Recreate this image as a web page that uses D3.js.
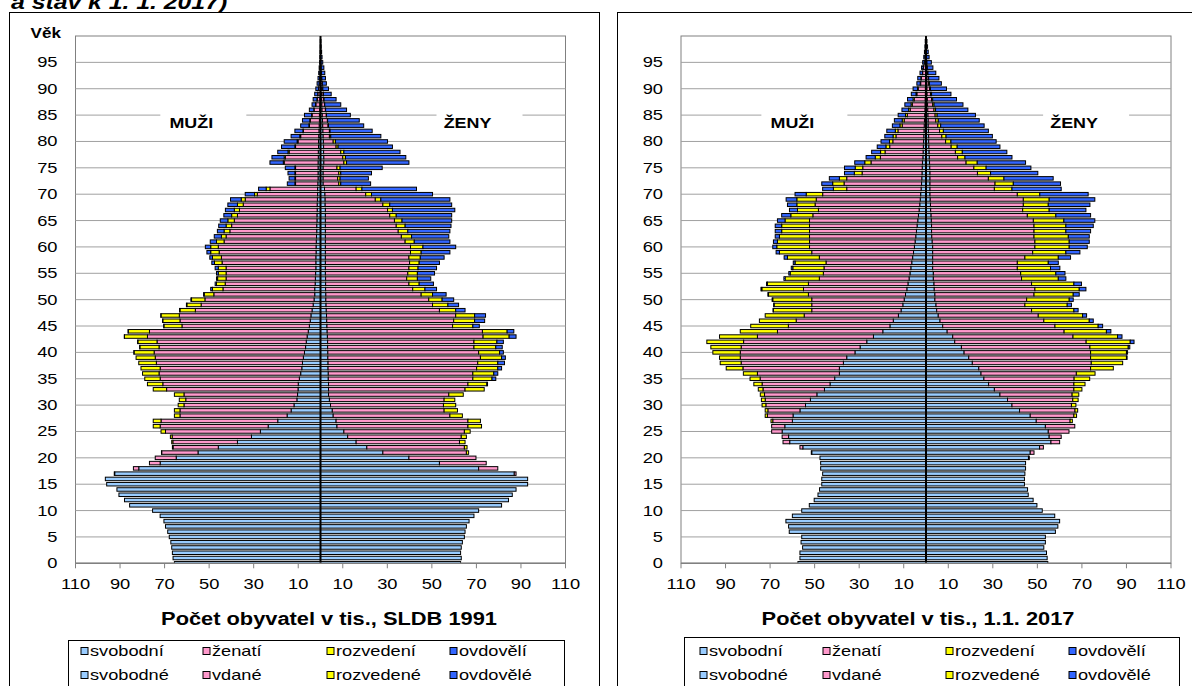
<!DOCTYPE html>
<html><head><meta charset="utf-8">
<script src="https://cdn.jsdelivr.net/npm/d3@7"></script>
<style>body{margin:0;background:#fff;} svg{display:block;font-family:"Liberation Sans",Arial,sans-serif;}</style>
</head><body>
<svg id="c" width="1192" height="686"></svg>
<script>
// ---------- categories / ticks ----------
const ages = d3.range(0, 100);
const yTickValues = [0,5,10,15,20,25,30,35,40,45,50,55,60,65,70,75,80,85,90,95];
const xTickValues = [-110,-90,-70,-50,-30,-10,10,30,50,70,90,110];
const legendMen = ["svobodní","ženatí","rozvedení","ovdovělí"];
const legendWomen = ["svobodné","vdané","rozvedené","ovdovělé"];
const statusColors = ["#99CCFF","#FF99CC","#FFFF00","#3366FF"];

// ---------- SLDB 1991 (thousands), index = age ----------
const m91_svobodni = [65.6,66.2,66.5,66.8,67.2,67.9,68.6,69.6,70.3,72.0,
 75.4,85.7,88.0,90.5,91.4,96.0,96.6,92.4,81.6,72.0,
 64.8,55.0,45.9,37.3,31.0,27.0,23.5,19.2,15.0,13.2,
 11.9,10.6,10.3,10.1,10.0,9.5,8.9,8.4,8.1,7.7,
 7.2,6.7,6.4,6.0,5.5,5.0,4.6,4.3,3.8,3.3,
 2.9,2.6,2.6,2.4,2.3,2.2,2.1,2.1,2.1,2.0,
 2.0,1.9,1.8,1.7,1.7,1.6,1.6,1.5,1.5,1.4,
 1.3,1.3,1.2,1.1,1.1,1.1,1.1,1.0,1.0,0.9,
 0.9,0.8,0.7,0.6,0.5,0.5,0.4,0.3,0.3,0.2,
 0.2,0.1,0.1,0.1,0.05,0.05,0.03,0.02,0.01,0.01];
const m91_zenati = [0,0,0,0,0,0,0,0,0,0,
 0,0,0,0,0,0,0,0.2,2.4,4.8,
 9.4,16.3,20.3,29.0,35.6,42.6,48.5,52.4,48.1,49.9,
 49.4,49.9,51.0,59.0,60.8,62.5,63.6,63.6,65.6,66.5,
 67.5,65.8,67.0,71.7,71.3,57.2,58.5,59.1,52.4,50.3,
 49.0,45.3,41.2,40.4,40.1,40.2,40.3,42.1,42.4,43.5,
 43.9,41.4,40.6,39.0,38.2,37.1,35.7,34.9,33.2,32.4,
 27.1,21.4,10.0,10.1,10.1,10.1,15.2,14.8,13.1,10.3,
 9.2,8.1,7.0,4.4,4.1,3.3,2.5,1.8,1.2,1.0,
 0.7,0.5,0.3,0.2,0.15,0.1,0.06,0.04,0.03,0.02];
const m91_rozvedeni = [0,0,0,0,0,0,0,0,0,0,
 0,0,0,0,0,0,0,0,0,0,
 0,0.1,0.3,0.5,0.8,2.0,3.1,3.5,2.5,2.5,
 2.6,2.9,4.3,6.0,6.9,6.9,7.4,8.6,7.9,8.6,
 9.0,8.6,8.6,10.3,9.5,8.1,7.7,8.2,6.9,6.4,
 6.0,4.3,4.7,3.9,3.8,3.5,3.5,3.4,4.0,3.8,
 3.4,3.4,2.1,2.6,2.5,2.9,2.6,2.3,2.6,1.8,
 1.2,1.7,0.3,0.3,0.3,0.3,0.4,0.5,0.5,0.3,
 0.4,0.4,0.2,0.2,0.2,0.2,0.1,0.1,0.1,0.05,
 0.05,0.03,0.02,0.01,0.01,0.01,0,0,0,0];
const m91_ovdoveli = [0,0,0,0,0,0,0,0,0,0,
 0,0,0,0,0,0,0,0,0,0,
 0,0,0,0,0,0,0,0,0,0,
 0,0,0,0,0,0,0,0,0,0,
 0.1,0.1,0.1,0.1,0.1,0.1,0.1,0.1,0.2,0.2,
 0.3,0.3,0.8,0.6,0.5,0.8,1.4,1.2,1.2,1.7,
 2.4,2.8,3.2,3.0,3.3,3.4,3.5,4.0,4.3,4.8,
 4.2,3.4,3.4,2.6,3.1,4.3,6.0,5.5,4.6,6.0,
 5.8,3.9,3.6,3.7,3.3,3.2,2.0,1.6,1.7,1.35,
 1.15,0.9,0.7,0.5,0.4,0.25,0.17,0.12,0.08,0.05];
const f91_svobodne = [62.9,63.2,62.9,63.2,63.7,64.6,64.9,65.5,66.7,68.9,
 71.0,81.3,84.4,86.1,87.8,93.0,93.0,87.0,71.0,53.4,
 39.7,28.0,20.8,16.0,12.2,10.5,7.4,7.0,5.7,5.3,
 4.5,4.0,3.6,3.6,3.6,3.5,3.5,3.4,3.4,3.3,
 3.3,3.2,3.2,3.1,3.0,2.9,2.8,2.7,2.6,2.5,
 2.4,2.4,2.3,2.3,2.3,2.2,2.2,2.2,2.2,2.2,
 2.2,2.2,2.2,2.2,2.2,2.2,2.2,2.2,2.1,2.1,
 2.0,1.8,1.2,1.2,1.2,1.2,1.5,1.5,1.4,1.4,
 1.3,1.2,1.1,1.0,0.9,0.8,0.7,0.6,0.5,0.4,
 0.4,0.3,0.2,0.2,0.1,0.1,0.05,0.03,0.02,0.01];
const f91_vdane = [0,0,0,0,0,0,0,0,0,0,
 0,0,0,0,0,0,0,0.8,8.6,21.0,
 30.1,37.5,43.8,46.4,51.0,54.1,58.8,59.2,52.4,50.2,
 50.7,51.5,54.0,61.3,62.6,64.9,64.9,66.7,67.2,68.5,
 67.7,65.7,65.7,69.9,69.7,56.4,57.0,58.0,50.8,47.8,
 46.2,42.8,39.1,37.4,36.4,37.0,37.5,37.8,37.5,38.2,
 38.2,35.8,34.1,32.7,31.8,31.0,28.9,27.9,25.9,22.5,
 18.3,14.2,7.0,6.5,7.0,6.2,9.0,8.5,7.7,5.6,
 4.4,2.8,2.9,2.4,2.2,1.8,1.5,1.2,1.0,0.8,
 0.6,0.5,0.4,0.2,0.2,0.1,0.05,0.03,0.02,0.01];
const f91_rozvedene = [0,0,0,0,0,0,0,0,0,0,
 0,0,0,0,0,0,0,0,0,0,
 0,1.0,1.2,2.5,2.3,2.6,6.1,5.6,5.6,6.0,
 5.5,4.8,6.5,8.6,8.5,8.6,9.4,9.5,9.0,9.5,
 9.4,9.8,10.3,11.7,11.1,9.1,9.4,8.5,7.3,6.9,
 6.0,5.1,5.5,4.6,4.8,4.3,4.1,4.3,5.1,4.8,
 5.6,4.1,4.6,4.3,4.0,3.4,2.9,2.2,3.1,2.5,
 2.6,2.6,0.9,1.1,0.9,1.4,1.2,1.2,1.4,0.9,
 1.0,0.6,0.3,0.2,0.1,0.1,0.1,0.1,0.1,0.1,
 0.05,0.03,0.02,0.02,0.01,0.01,0,0,0,0];
const f91_ovdovele = [0,0,0,0,0,0,0,0,0,0,
 0,0,0,0,0,0,0,0,0,0,
 0,0,0,0,0,0,0,0,0,0,
 0,0,0,0,0.3,1.7,1.8,1.7,3.0,1.7,
 1.7,2.9,2.9,3.1,3.0,2.9,4.5,4.9,4.2,4.8,
 5.2,6.1,5.2,6.4,6.0,7.7,8.3,9.1,10.7,12.9,
 14.7,16.0,16.7,18.9,20.6,22.3,24.9,28.0,27.8,31.0,
 27.4,24.5,13.4,12.7,13.8,18.9,28.0,27.1,25.2,24.4,
 23.4,22.5,18.9,15.8,14.2,10.7,9.4,7.2,5.4,3.5,
 2.55,1.8,1.6,1.5,1.2,0.8,0.6,0.45,0.26,0.18];

// ---------- 1.1.2017 (thousands), index = age ----------
const m17_svobodni = [57.5,56.6,56.6,55.4,56.1,55.8,61.4,61.7,62.9,60.0,
 55.8,52.4,50.2,48.5,47.8,46.8,46.8,46.4,47.3,47.3,
 47.6,51.3,55.3,61.2,61.7,64.6,63.4,60.0,59.7,56.6,
 54.1,51.9,49.0,45.6,43.1,41.0,38.9,38.9,37.1,35.6,
 31.9,29.6,26.6,23.6,19.4,16.2,14.7,12.4,11.2,10.4,
 9.8,9.2,8.6,8.1,7.6,7.2,6.8,6.4,6.0,5.6,
 5.2,4.9,4.6,4.3,4.0,3.7,3.4,3.1,2.8,2.6,
 2.4,2.2,2.0,1.9,1.8,1.7,1.6,1.4,1.3,1.2,
 1.1,1.0,0.9,0.8,0.7,0.6,0.5,0.45,0.4,0.3,
 0.3,0.2,0.2,0.1,0.1,0.1,0.05,0.03,0.02,0.02];
const m17_zenati = [0,0,0,0,0,0,0,0,0,0,
 0,0,0,0,0,0,0,0,0,0,
 0,0.2,1.3,3.0,2.9,4.7,5.9,8.8,11.5,14.4,
 17.8,20.3,23.5,27.6,30.5,33.5,36.8,43.3,45.9,47.8,
 51.5,53.4,55.3,52.1,47.3,45.6,43.6,42.3,40.1,40.9,
 41.5,43.6,46.4,44.7,40.3,38.9,39.0,38.5,41.9,45.7,
 47.1,47.4,47.7,48.0,48.3,48.6,47.4,45.2,47.0,46.7,
 44.0,33.4,34.8,33.7,26.9,26.7,23.1,19.1,17.1,15.1,
 13.8,12.5,11.7,9.9,9.1,7.8,6.6,5.7,4.9,3.8,
 3.2,2.2,1.9,1.4,1.0,0.7,0.45,0.3,0.2,0.13];
const m17_rozvedeni = [0,0,0,0,0,0,0,0,0,0,
 0,0,0,0,0,0,0,0,0,0,
 0,0,0,0,0,0,0,0.8,1.0,1.2,
 1.7,1.7,1.9,2.1,3.7,4.5,6.3,7.5,9.4,9.3,
 12.3,13.6,16.5,17.0,16.7,16.9,16.5,17.5,17.2,16.9,
 17.5,17.9,18.7,18.4,15.4,14.9,14.0,13.9,14.3,14.5,
 14.7,14.4,13.5,12.5,12.5,11.0,9.9,9.4,8.2,8.7,
 7.4,6.0,5.1,3.3,3.5,3.4,2.8,2.3,2.0,1.7,
 1.5,1.3,1.2,1.0,0.9,0.8,0.7,0.55,0.5,0.4,
 0.3,0.2,0.2,0.1,0.1,0.1,0.05,0.03,0.02,0.01];
const m17_ovdoveli = [0,0,0,0,0,0,0,0,0,0,
 0,0,0,0,0,0,0,0,0,0,
 0,0,0,0,0,0,0,0,0,0,
 0,0,0,0,0,0,0,0,0,0,
 0,0,0,0,0,0,0,0,0.2,0.2,
 0.3,0.3,0.4,0.4,0.5,0.6,0.7,0.8,1.5,1.5,
 1.8,1.8,1.9,2.9,2.9,3.4,4.1,3.6,4.2,4.8,
 5.0,4.8,4.9,4.5,4.4,4.8,4.5,4.1,4.0,3.9,
 3.8,3.7,3.8,3.4,3.5,3.3,3.0,2.8,2.5,2.1,
 2.0,1.5,1.4,1.1,0.8,0.6,0.45,0.34,0.26,0.19];
const f17_svobodne = [54.7,54.4,54.1,52.9,53.6,53.6,58.1,59.2,60.0,57.8,
 52.2,49.8,48.1,45.9,45.6,44.2,44.2,44.4,44.7,44.7,
 46.0,46.8,51.0,56.1,55.3,54.9,53.6,49.5,46.8,42.0,
 38.6,36.6,33.2,30.7,28.1,26.0,24.7,23.7,20.8,19.2,
 17.1,15.9,12.9,12.0,9.5,7.5,6.3,5.5,4.8,4.5,
 4.0,4.0,3.7,3.6,3.3,3.3,3.0,3.0,3.0,3.0,
 3.0,2.8,2.6,2.5,2.5,2.4,2.3,2.1,2.0,1.9,
 1.8,1.8,1.8,1.8,1.8,1.7,1.6,1.5,1.4,1.3,
 1.2,1.2,1.1,1.0,1.0,0.9,0.8,0.7,0.6,0.5,
 0.45,0.4,0.3,0.25,0.2,0.15,0.1,0.08,0.05,0.03];
const f17_vdane = [0,0,0,0,0,0,0,0,0,0,
 0,0,0,0,0,0,0,0,0,0,
 0.4,1.7,1.7,3.9,5.4,9.3,13.2,15.2,19.6,24.9,
 26.7,29.3,32.4,35.7,38.3,40.5,42.8,50.2,53.4,54.7,
 56.8,57.7,59.0,54.0,52.5,50.4,46.6,44.9,42.6,39.9,
 41.2,44.5,45.2,43.8,39.6,39.2,38.0,38.0,41.4,44.9,
 45.9,46.1,45.9,46.0,46.0,45.8,43.2,41.3,41.7,41.8,
 39.2,28.9,29.2,26.2,21.3,19.8,16.4,12.7,11.8,10.0,
 7.6,5.9,5.0,4.3,3.4,3.2,2.8,2.3,1.9,1.5,
 1.15,0.8,0.7,0.45,0.3,0.2,0.1,0.07,0.05,0.03];
const f17_rozvedene = [0,0,0,0,0,0,0,0,0,0,
 0,0,0,0,0,0,0,0,0,0,
 0,0,0,0,0,0,0,1.0,1.2,1.2,
 2.0,2.4,3.0,3.6,5.0,7.0,8.4,10.2,14.1,16.1,
 16.1,17.2,19.8,20.0,19.0,19.4,20.4,19.9,19.0,19.0,
 19.1,17.6,19.9,19.0,16.5,15.8,14.9,13.9,15.0,14.9,
 15.4,15.4,15.4,14.3,14.3,13.7,12.8,11.9,11.2,11.6,
 10.1,7.9,8.2,7.0,5.9,5.5,5.0,3.3,3.1,2.7,
 2.4,1.9,1.7,1.3,1.1,0.9,0.7,0.6,0.5,0.5,
 0.4,0.3,0.2,0.2,0.1,0.1,0.1,0.05,0.03,0.02];
const f17_ovdovele = [0,0,0,0,0,0,0,0,0,0,
 0,0,0,0,0,0,0,0,0,0,
 0,0,0,0,0,0,0,0,0,0,
 0,0,0,0,0,0,0,0,0,0.3,
 0.5,0.7,1.7,2.0,2.0,2.0,1.8,1.8,1.9,1.9,
 1.8,2.7,3.0,3.4,3.4,4.1,4.2,4.5,5.5,6.3,
 8.1,9.0,9.4,11.1,12.3,13.9,15.6,16.5,18.7,20.5,
 21.7,22.1,21.2,22.1,21.2,20.1,21.7,21.1,20.0,19.2,
 20.3,20.8,20.2,19.5,18.4,17.2,14.5,13.0,10.7,8.7,
 7.2,5.4,4.6,3.5,2.5,1.95,1.1,0.8,0.57,0.37];

// ---------- drawing ----------
const svg = d3.select("#c");

function stretchedText(g, x, y, str, opt) {
  return g.append("text")
    .attr("transform", `translate(${x},${y}) scale(${opt.sx || 1.25},1)`)
    .attr("text-anchor", opt.anchor || "start")
    .attr("font-size", opt.size)
    .attr("font-weight", opt.weight || "normal")
    .attr("font-style", opt.style || "normal")
    .attr("fill", "#000")
    .text(str);
}

// top heading (continuation of the page title, cut by the picture edge)
stretchedText(svg, 11, 9, "a stav k 1. 1. 2017)", {size: 21, weight: "bold", style: "italic", sx: 1.18});

// panel frames
svg.append("rect").attr("x", 9.5).attr("y", 12.5).attr("width", 590).attr("height", 700)
  .attr("fill", "none").attr("stroke", "#000").attr("stroke-width", 1);
svg.append("rect").attr("x", 617.5).attr("y", 12.5).attr("width", 620).attr("height", 700)
  .attr("fill", "none").attr("stroke", "#000").attr("stroke-width", 1);

function pyramid(o) {
  const g = svg.append("g");
  const x = d3.scaleLinear().domain([-110, 110]).range([o.cx - o.half, o.cx + o.half]);
  const y = d3.scaleLinear().domain([0, 100]).range([563.3, 36]);
  const L = x(-110), R = x(110), T = y(100), B = y(0);

  g.append("rect").attr("x", L).attr("y", T).attr("width", R - L).attr("height", B - T)
    .attr("fill", "#fff").attr("stroke", "#808080").attr("stroke-width", 1);

  g.selectAll("line.grid").data(yTickValues.filter(d => d > 0)).join("line")
    .attr("x1", L).attr("x2", R).attr("y1", d => y(d)).attr("y2", d => y(d))
    .attr("stroke", "#a0a0a0").attr("stroke-width", 1);

  // MUŽI / ŽENY labels on white boxes
  [[o.muzX, "MUŽI"], [o.zenyX, "ŽENY"]].forEach(([v, t]) => {
    const cxl = x(v);
    g.append("rect").attr("x", cxl - 31).attr("y", 108).attr("width", 86).attr("height", 26).attr("fill", "#fff");
    stretchedText(g, cxl, 127.5, t, {size: 14, weight: "bold", anchor: "middle", sx: 1.28});
  });

  // bars
  const clipId = "clip" + o.id;
  g.append("clipPath").attr("id", clipId).append("rect")
    .attr("x", L).attr("y", T).attr("width", R - L).attr("height", B - T);
  const bars = g.append("g").attr("clip-path", `url(#${clipId})`);
  const h = 3.5;
  const segs = [];
  ages.forEach(a => {
    let cm = 0, cf = 0;
    for (let k = 0; k < 4; k++) {
      const vm = o.men[k][a], vf = o.women[k][a];
      if (vm > 0) segs.push({a, k, x0: x(-(cm + vm)), x1: x(-cm)});
      if (vf > 0) segs.push({a, k, x0: x(cf), x1: x(cf + vf)});
      cm += vm; cf += vf;
    }
  });
  bars.selectAll("rect").data(segs).join("rect")
    .attr("x", d => d.x0).attr("width", d => Math.max(0.01, d.x1 - d.x0))
    .attr("y", d => y(d.a) - h / 2).attr("height", h)
    .attr("fill", d => statusColors[d.k]).attr("stroke", "#000").attr("stroke-width", 1);

  // centre (category) axis
  g.append("line").attr("x1", x(0)).attr("x2", x(0)).attr("y1", T).attr("y2", B)
    .attr("stroke", "#000").attr("stroke-width", 2);

  // bottom value axis
  g.append("line").attr("x1", L).attr("x2", R).attr("y1", B).attr("y2", B)
    .attr("stroke", "#808080").attr("stroke-width", 1.5);
  g.selectAll("line.tick").data(xTickValues).join("line")
    .attr("x1", d => x(d)).attr("x2", d => x(d)).attr("y1", B).attr("y2", B + 5)
    .attr("stroke", "#808080").attr("stroke-width", 1);
  xTickValues.forEach(d => stretchedText(g, x(d), 589, String(Math.abs(d)), {size: 15, anchor: "middle", sx: 1.22}));

  // age labels
  yTickValues.forEach(d => stretchedText(g, L - 18, y(d) + 5, String(d), {size: 15, anchor: "end", sx: 1.22}));
  if (o.vek) stretchedText(g, 30.5, 38, "Věk", {size: 14, weight: "bold", sx: 1.22});

  // axis title
  stretchedText(g, o.titleX, 625, o.title, {size: 18.5, weight: "bold", anchor: "middle", sx: 1.18});

  // legend
  const lg = g.append("g");
  lg.append("rect").attr("x", o.leg.x0).attr("y", o.leg.top).attr("width", o.leg.x1 - o.leg.x0).attr("height", 80)
    .attr("fill", "#fff").attr("stroke", "#000").attr("stroke-width", 1);
  [legendMen, legendWomen].forEach((names, r) => {
    const cy = 651 + r * 24;
    names.forEach((nm, i) => {
      const mx = o.leg.cols[i];
      lg.append("rect").attr("x", mx).attr("y", cy - 3.5).attr("width", 7).attr("height", 7)
        .attr("fill", statusColors[i]).attr("stroke", "#000").attr("stroke-width", 1);
      stretchedText(lg, mx + 9, cy + 5, nm, {size: 14, sx: 1.3});
    });
  });
}

pyramid({
  id: "a", cx: 320.5, half: 245, vek: true,
  men: [m91_svobodni, m91_zenati, m91_rozvedeni, m91_ovdoveli],
  women: [f91_svobodne, f91_vdane, f91_rozvedene, f91_ovdovele],
  muzX: -58, zenyX: 66,
  title: "Počet obyvatel v tis., SLDB 1991", titleX: 329,
  leg: {x0: 68.5, x1: 564.5, top: 640.5, cols: [81, 203, 327, 450]}
});
pyramid({
  id: "b", cx: 926, half: 245, vek: false,
  men: [m17_svobodni, m17_zenati, m17_rozvedeni, m17_ovdoveli],
  women: [f17_svobodne, f17_vdane, f17_rozvedene, f17_ovdovele],
  muzX: -60, zenyX: 66.5,
  title: "Počet obyvatel v tis., 1.1. 2017", titleX: 918,
  leg: {x0: 684.5, x1: 1179.5, top: 637.5, cols: [700, 823, 946, 1069]}
});
</script>
</body></html>
